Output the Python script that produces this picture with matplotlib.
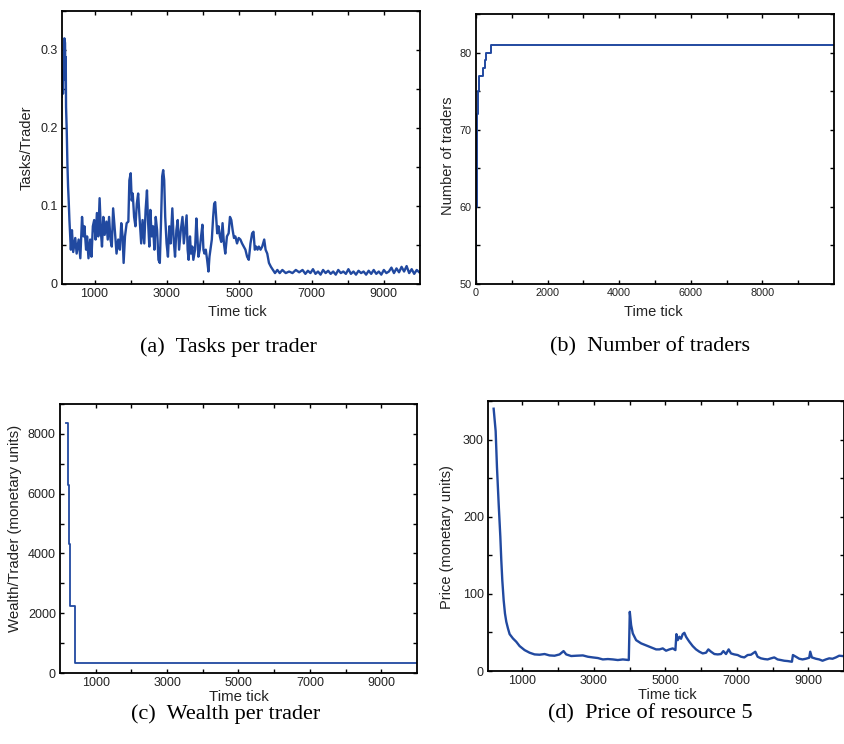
import matplotlib
matplotlib.use("Agg")
import matplotlib.pyplot as plt

# ---------------- data ----------------
# (a) Tasks per trader
tasks_t = [91, 110, 128, 147, 166, 184, 194, 203, 212, 231, 249, 268, 286, 305,
           345, 375, 410, 467, 505, 560, 607, 654, 692, 720, 766, 794, 832, 878,
           916, 953, 990, 1028, 1065, 1103, 1140, 1178, 1206, 1243, 1280, 1327,
           1365, 1402, 1440, 1477, 1514, 1561, 1608, 1655, 1701, 1739, 1776,
           1804, 1842, 1888, 1935, 1963, 2000, 2028, 2056, 2094, 2131, 2169,
           2206, 2243, 2290, 2328, 2375, 2412, 2450, 2478, 2515, 2543, 2580,
           2618, 2655, 2692, 2730, 2767, 2805, 2842, 2870, 2898, 2926, 2954,
           2992, 3030, 3067, 3104, 3151, 3188, 3226, 3263, 3300, 3338, 3385,
           3432, 3469, 3506, 3546, 3574, 3602, 3639, 3667, 3704, 3732, 3779,
           3816, 3844, 3872, 3909, 3946, 3983, 4011, 4039, 4076, 4113, 4150,
           4178, 4215, 4243, 4280, 4308, 4336, 4364, 4392, 4429, 4466, 4503,
           4540, 4578, 4615, 4661, 4708, 4745, 4782, 4819, 4856, 4894, 4940,
           4986, 5033, 5079, 5126, 5172, 5219, 5265, 5312, 5358, 5395, 5432,
           5470, 5507, 5544, 5590, 5637, 5692, 5730, 5776, 5823, 5878, 5934,
           5990, 6055, 6120, 6194, 6287, 6380, 6473, 6566, 6659, 6752, 6830,
           6900, 6970, 7040, 7110, 7180, 7250, 7320, 7390, 7460, 7530, 7600,
           7670, 7740, 7810, 7880, 7950, 8020, 8090, 8160, 8230, 8300, 8370,
           8440, 8510, 8580, 8650, 8720, 8790, 8860, 8930, 9000, 9070, 9140,
           9210, 9280, 9350, 9420, 9490, 9560, 9630, 9700, 9770, 9840, 9910,
           9980]
tasks_v = [0.240, 0.274, 0.244, 0.296, 0.315, 0.309, 0.262, 0.291, 0.227, 0.197,
           0.155, 0.125, 0.106, 0.082,
           0.044, 0.069, 0.041, 0.059, 0.039, 0.057, 0.033, 0.086, 0.061, 0.074,
           0.044, 0.061, 0.033, 0.057, 0.035, 0.074, 0.082, 0.057, 0.091, 0.061,
           0.110, 0.065, 0.048, 0.086, 0.063, 0.080, 0.057, 0.086, 0.057, 0.048,
           0.097, 0.069, 0.039, 0.057, 0.044, 0.078, 0.061, 0.027, 0.061, 0.078,
           0.080, 0.133, 0.142, 0.107, 0.116, 0.086, 0.074, 0.103, 0.116, 0.086,
           0.052, 0.082, 0.052, 0.095, 0.120, 0.082, 0.048, 0.095, 0.061, 0.074,
           0.044, 0.086, 0.069, 0.031, 0.027, 0.086, 0.138, 0.146, 0.133, 0.086,
           0.052, 0.035, 0.074, 0.052, 0.097, 0.057, 0.035, 0.069, 0.082, 0.044,
           0.069, 0.086, 0.052, 0.069, 0.088, 0.044, 0.031, 0.061, 0.039, 0.048,
           0.031, 0.044, 0.084, 0.061, 0.035, 0.044, 0.061, 0.076, 0.044, 0.039,
           0.044, 0.031, 0.016, 0.035, 0.048, 0.057, 0.086, 0.103, 0.105, 0.086,
           0.065, 0.074, 0.061, 0.054, 0.078, 0.052, 0.039, 0.061, 0.065, 0.086,
           0.082, 0.069, 0.059, 0.061, 0.052, 0.059, 0.057, 0.052, 0.048, 0.044,
           0.035, 0.031, 0.052, 0.065, 0.067, 0.044, 0.048, 0.044, 0.048, 0.044,
           0.048, 0.057, 0.044, 0.039, 0.027, 0.022, 0.018, 0.014, 0.018, 0.014,
           0.018, 0.014, 0.016, 0.014, 0.018, 0.015, 0.018, 0.013, 0.017, 0.014,
           0.019, 0.013, 0.016, 0.012, 0.018, 0.014, 0.017, 0.013, 0.016, 0.012,
           0.018, 0.014, 0.016, 0.013, 0.019, 0.013, 0.016, 0.012, 0.017, 0.014,
           0.016, 0.012, 0.017, 0.013, 0.018, 0.013, 0.016, 0.012, 0.018, 0.014,
           0.016, 0.021, 0.014, 0.020, 0.015, 0.022, 0.016, 0.023, 0.014, 0.019,
           0.013, 0.018, 0.015]

# (b) Number of traders (step changes)
traders_t = [0, 5, 10, 15, 20, 30, 45, 60, 95, 205, 245, 270, 420, 9999]
traders_v = [50, 55, 60, 65, 70, 72, 74, 75, 77, 78, 79, 80, 81, 81]

# (c) Wealth per trader (step changes)
wealth_t = [160, 215, 252, 271, 430, 10000]
wealth_v = [8370, 6300, 4300, 2230, 335, 335]

# (d) Price of resource 5
price_t = [198, 254, 291, 338, 385, 412, 440, 478, 515, 552, 599, 645, 738,
           831, 925, 1064, 1204, 1343, 1483, 1623, 1763, 1902, 2042, 2154,
           2228, 2368, 2508, 2694, 2834, 2973, 3113, 3253, 3393, 3532, 3672,
           3812, 3979, 4007, 4044, 4091, 4184, 4324, 4464, 4603, 4743, 4836,
           4929, 5022, 5115, 5209, 5283, 5311, 5348, 5395, 5441, 5488, 5534,
           5581, 5628, 5674, 5767, 5860, 5954, 6047, 6140, 6205, 6280, 6373,
           6466, 6559, 6624, 6699, 6773, 6838, 6931, 7025, 7118, 7211, 7304,
           7397, 7518, 7583, 7677, 7770, 7863, 7956, 8049, 8142, 8235, 8328,
           8421, 8543, 8571, 8654, 8747, 8840, 8934, 9027, 9055, 9101, 9213,
           9306, 9399, 9493, 9586, 9679, 9772, 9865, 9958]
price_v = [340, 311, 264, 217, 174, 143.5, 117.6, 91.8, 74.5, 63.8, 55.1, 47.8,
           42.2, 37.9, 32.3, 27.1, 23.7, 21.5, 21.1, 22.0, 20.2, 19.8, 21.5,
           25.8, 21.5, 19.4, 19.8, 20.2, 18.5, 17.6, 16.8, 15.0, 15.5, 15.0,
           14.2, 15.0, 14.2, 76.7, 59.5, 48.7, 40.0, 35.8, 33.2, 30.6, 28.0,
           28.0, 29.3, 26.3, 28.0, 29.3, 27.1, 47.8, 40.0, 44.4, 41.8, 47.8,
           49.5, 44.4, 41.0, 37.9, 32.3, 28.0, 25.0, 22.8, 23.7, 28.0, 25.0,
           22.0, 21.5, 22.0, 25.8, 22.0, 28.0, 22.8, 21.5, 20.7, 18.5, 17.6,
           20.7, 21.1, 25.0, 18.5, 16.4, 15.5, 15.0, 16.4, 17.6, 15.0, 14.2,
           13.3, 12.9, 12.0, 20.7, 18.5, 15.9, 15.0, 15.9, 17.2, 25.0, 17.6,
           15.9, 15.0, 13.3, 15.0, 16.4, 15.9, 17.6, 19.8, 19.4]

x_odd_ticks = [1000, 2000, 3000, 4000, 5000, 6000, 7000, 8000, 9000]
x_odd_labels = ["1000", "", "3000", "", "5000", "", "7000", "", "9000"]
x_even_ticks = [0, 1000, 2000, 3000, 4000, 5000, 6000, 7000, 8000, 9000]
x_even_labels = ["0", "", "2000", "", "4000", "", "6000", "", "8000", ""]

captions = ["(a)  Tasks per trader", "(b)  Number of traders",
            "(c)  Wealth per trader", "(d)  Price of resource 5"]

# ---------------- figure ----------------
W, H = 845, 744
fig = plt.figure(figsize=(W / 100, H / 100), dpi=100)
plt.rcParams['font.family'] = ['Liberation Sans', 'DejaVu Sans']

BLUE = '#2149A0'
TXT = '#222222'


def box(l, t, r, b):
    return [l / W, 1 - b / H, (r - l) / W, (b - t) / H]


def style(ax, fs):
    for s in ax.spines.values():
        s.set_linewidth(1.3)
        s.set_color('black')
    ax.tick_params(direction='in', top=True, right=True, length=3.2,
                   width=1.0, labelsize=fs, colors='black', labelcolor=TXT,
                   pad=3)


def labels(ax, xl, yl, xc, yc, fs=10.5):
    ax.set_xlabel(xl, fontsize=fs, color=TXT, va='center')
    ax.set_ylabel(yl, fontsize=fs, color=TXT, va='center')
    ax.xaxis.set_label_coords(*xc)
    ax.yaxis.set_label_coords(*yc)


# (a)
ax = fig.add_axes(box(62, 11, 420, 284))
ax.plot(tasks_t, tasks_v, color=BLUE, lw=1.7)
ax.set_xlim(100, 10000)
ax.set_ylim(0, 0.35)
ax.set_xticks(x_odd_ticks)
ax.set_xticklabels(x_odd_labels)
ax.set_yticks([0, 0.05, 0.1, 0.15, 0.2, 0.25, 0.3, 0.35])
ax.set_yticklabels(["0", "", "0.1", "", "0.2", "", "0.3", ""])
style(ax, 9)
labels(ax, "Time tick", "Tasks/Trader", (0.49, -0.101), (-0.100, 0.5))

# (b)
ax = fig.add_axes(box(476, 14, 834, 284))
ax.plot(traders_t, traders_v, color=BLUE, lw=1.4, drawstyle='steps-post')
ax.set_xlim(0, 10000)
ax.set_ylim(50, 85)
ax.set_xticks(x_even_ticks)
ax.set_xticklabels(x_even_labels)
ax.set_yticks([50, 55, 60, 65, 70, 75, 80, 85])
ax.set_yticklabels(["50", "", "60", "", "70", "", "80", ""])
style(ax, 7.8)
labels(ax, "Time tick", "Number of traders", (0.494, -0.102), (-0.077, 0.474))

# (c)
ax = fig.add_axes(box(60, 404, 417, 673))
ax.plot(wealth_t, wealth_v, color=BLUE, lw=1.3, drawstyle='steps-post')
ax.set_xlim(0, 10000)
ax.set_ylim(0, 9000)
ax.set_xticks(x_odd_ticks)
ax.set_xticklabels(x_odd_labels)
ax.set_yticks(list(range(0, 9001, 1000)))
ax.set_yticklabels(["0", "", "2000", "", "4000", "", "6000", "", "8000", ""])
style(ax, 9)
labels(ax, "Time tick", "Wealth/Trader (monetary units)", (0.5, -0.088),
       (-0.126, 0.539), fs=10.8)

# (d)
ax = fig.add_axes(box(488, 401, 844, 671))
ax.plot(price_t, price_v, color=BLUE, lw=1.7)
ax.set_xlim(40, 10000)
ax.set_ylim(0, 350)
ax.set_xticks(x_odd_ticks)
ax.set_xticklabels(x_odd_labels)
ax.set_yticks(list(range(0, 351, 50)))
ax.set_yticklabels(["0", "", "100", "", "200", "", "300", ""])
style(ax, 9)
labels(ax, "Time tick", "Price (monetary units)", (0.503, -0.088),
       (-0.115, 0.497))

# captions
cap_pos = [(228, 347), (650, 347), (226, 714), (650, 714)]
for txt, (cx, cy) in zip(captions, cap_pos):
    fig.text(cx / W, 1 - cy / H, txt, ha='center', va='center',
             fontsize=16, family=['Liberation Serif', 'DejaVu Serif'],
             color='black')

fig.savefig("out.png", dpi=100)
